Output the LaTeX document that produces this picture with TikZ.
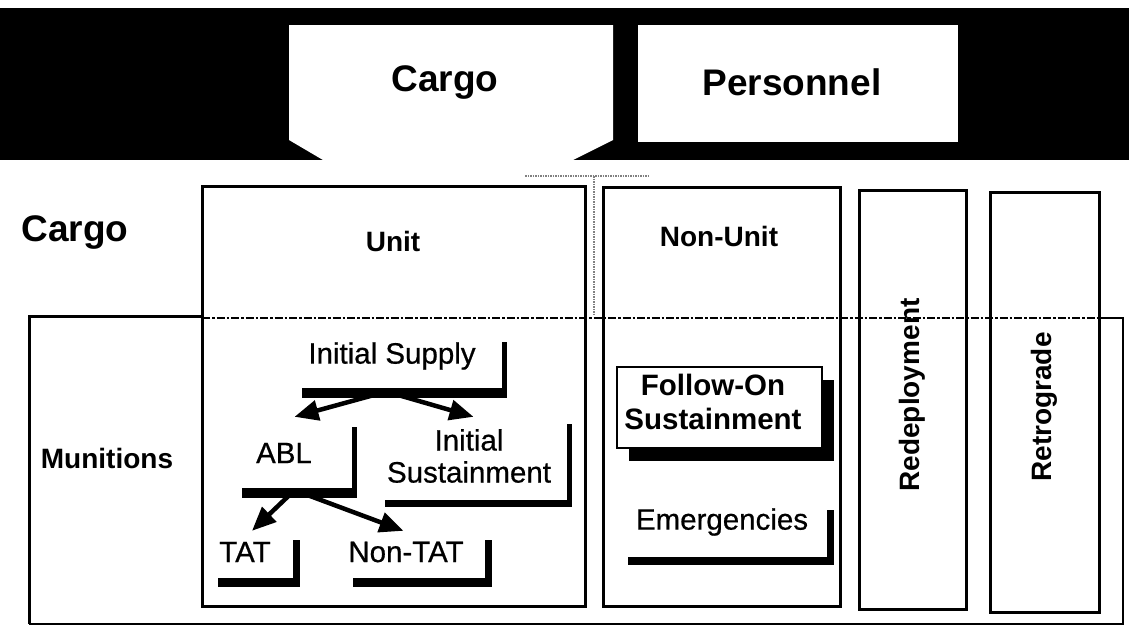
\documentclass[tikz,border=0pt]{standalone}
\usepackage{fontspec}
\setmainfont{Liberation Sans}
\newfontfamily\medfam{Liberation Sans}[UprightFeatures={FakeBold=0.6}]
\usetikzlibrary{positioning, shadows, calc, arrows.meta}

\newcommand{\hdfont}{\fontsize{37}{40}\selectfont\bfseries}
\newcommand{\lbfont}{\fontsize{28}{30}\selectfont\bfseries}
\newcommand{\fofont}{\fontsize{29.5}{31}\selectfont\bfseries}
\newcommand{\txfont}{\medfam\fontsize{29.5}{31}\selectfont}

\begin{document}
\begin{tikzpicture}[x=1pt, y=-1pt,
  frame/.style={draw=black, line width=3pt, inner sep=0pt},
  shbox/.style 2 args={fill=white, inner sep=0pt,
    drop shadow={shadow xshift=#1pt, shadow yshift=-#2pt, fill=black, opacity=1}},
  boxtext/.style={font=\txfont, align=center, inner sep=0pt},
  arr/.style={line width=4.5pt, -{Triangle[length=24pt, width=20pt]}}]

\useasboundingbox (0,0) rectangle (1129,627);

% header band
\fill[black] (0,8) rectangle (1129,160);
\fill[white] (289,25) -- (613,25) -- (613,140) -- (573,160) -- (323,160) -- (289,140) -- cycle;
\fill[white] (638,25) rectangle (958,142);
\node[font=\hdfont] (hcargo) at (445,82) {Cargo};
\node[font=\hdfont] (hpersonnel) at (792,82) {Personnel};

% faint dotted strip
\draw[gray, densely dotted, line width=1.5pt] (525,176) -- (650,176);
\draw[gray, densely dotted, line width=1.5pt] (594,176) -- (594,316);

% munitions row
\draw[line width=3pt] (202,316) -- (29,316) -- (29,624);
\draw[line width=2pt] (29,624) -- (1123,624) -- (1123,318) -- (1099,318);
\draw[line width=2.5pt, dash pattern=on 8pt off 2pt on 2.5pt off 2pt] (202,318) -- (1099,318);

% columns
\node[frame, minimum width=383pt, minimum height=420pt] (unitbox) at (393.5,396) {};
\node[frame, minimum width=237pt, minimum height=419pt] (nonunitbox) at (721.5,396.5) {};
\node[frame, minimum width=107pt, minimum height=419pt] (redepbox) at (912.5,399.5) {};
\node[frame, minimum width=109pt, minimum height=420pt] (retrobox) at (1044.5,402) {};

\node[font=\hdfont] (cargo) at (75,232) {Cargo};
\node[font=\lbfont] (unit) at (393,241) {Unit};
\node[font=\lbfont] (nonunit) at (719,236) {Non-Unit};
\node[font=\lbfont] (munitions) at (107,458) {Munitions};
\node[font=\lbfont, rotate=90] (redep) at (912,395) {Redeployment};
\node[font=\lbfont, rotate=90] (retro) at (1044,407) {Retrograde};

% unit tree
\node[shbox={5}{10}, minimum width=205pt, minimum height=56pt] (initsup) at (399.5,360) {};
\node[shbox={5}{10}, minimum width=115pt, minimum height=71pt] (abl) at (294.5,452.5) {};
\node[shbox={5}{7}, minimum width=187pt, minimum height=83pt] (initsus) at (473.5,458.5) {};
\node[shbox={7}{9}, minimum width=82pt, minimum height=47pt] (tat) at (252,554.5) {};
\node[shbox={7}{9}, minimum width=139pt, minimum height=47pt] (nontat) at (415.5,554.5) {};

\node[boxtext] (initsuptx) at (392,356) {Initial Supply};
\node[boxtext] (abltx) at (284,453) {ABL};
\node[boxtext] (initsustx) at (469,456) {Initial\\[1pt]Sustainment};
\node[boxtext] (tattx) at (245,552) {TAT};
\node[boxtext] (nontattx) at (406,552) {Non-TAT};

\draw[arr] ($(initsup.south)+(-8,2)$) -- (abl.north);
\draw[arr] ($(initsup.south)+(-18,2)$) -- (initsus.north);
\draw[arr] ($(abl.south)+(0,2)$) -- (tat.north);
\draw[arr] ($(abl.south)+(0,2)$) -- ($(nontat.north)+(-12,0)$);

% non-unit
\node[shbox={12}{13}, draw=black, line width=2pt, minimum width=205pt, minimum height=81pt] (followon) at (719.5,407.5) {};
\node[shbox={7}{8}, minimum width=206pt, minimum height=55pt] (emerg) at (724,529.5) {};
\node[boxtext, font=\fofont] (followontx) at (713,402) {Follow-On\\[3pt]Sustainment};
\node[boxtext] (emergtx) at (722,522) {Emergencies};

\end{tikzpicture}
\end{document}
